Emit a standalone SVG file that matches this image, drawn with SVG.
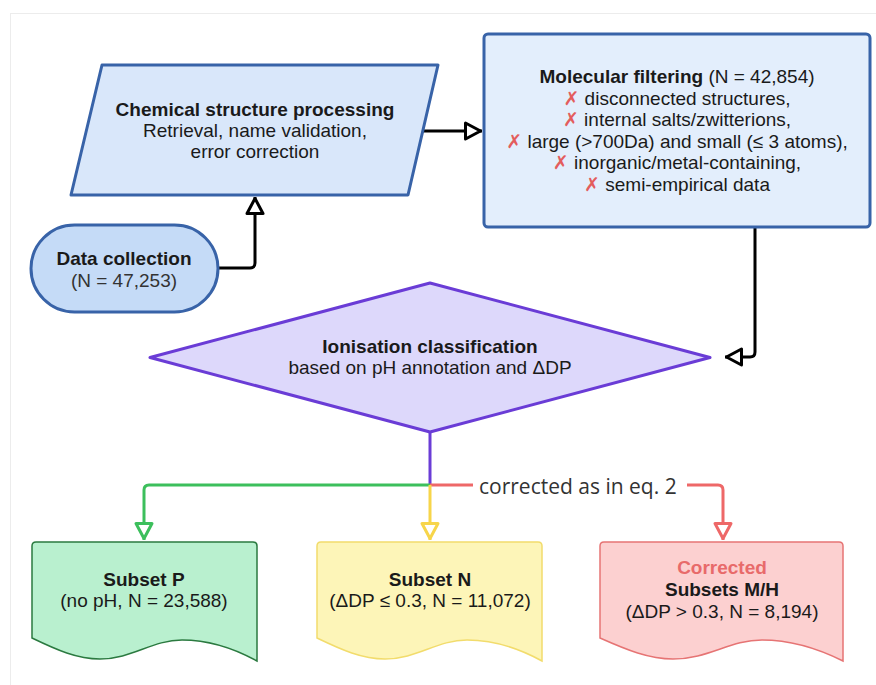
<svg xmlns="http://www.w3.org/2000/svg" width="876" height="685" viewBox="0 0 876 685">
  <style>
    .t { font-family: "Liberation Sans", Arial, sans-serif; font-size: 19px; fill: #1a1a1a; text-anchor: middle; }
    .b { font-weight: bold; }
    .x { fill: #e35d5d; font-family: "DejaVu Sans", sans-serif; font-size: 19px; }
    .red { fill: #e86a6a; }
    .grey { fill: #333333; }
    .lbl { font-family: "Open Sans", "Liberation Sans", sans-serif; font-size: 21px; fill: #333333; }
    .conn { fill: none; stroke-width: 3; stroke-linejoin: round; }
  </style>
  <defs>
    <marker id="aBlack" markerUnits="userSpaceOnUse" viewBox="0 0 22 22" markerWidth="22" markerHeight="22" refX="19.5" refY="11" orient="auto">
      <path d="M3,3 L18,11 L3,19 Z" fill="#ffffff" stroke="#000000" stroke-width="3" stroke-linejoin="round"/>
    </marker>
    <marker id="aGreen" markerUnits="userSpaceOnUse" viewBox="0 0 22 22" markerWidth="22" markerHeight="22" refX="19.5" refY="11" orient="auto">
      <path d="M3,3 L18,11 L3,19 Z" fill="#ffffff" stroke="#3cbf5c" stroke-width="3" stroke-linejoin="round"/>
    </marker>
    <marker id="aYellow" markerUnits="userSpaceOnUse" viewBox="0 0 22 22" markerWidth="22" markerHeight="22" refX="19.5" refY="11" orient="auto">
      <path d="M3,3 L18,11 L3,19 Z" fill="#ffffff" stroke="#f7d54a" stroke-width="3" stroke-linejoin="round"/>
    </marker>
    <marker id="aRed" markerUnits="userSpaceOnUse" viewBox="0 0 22 22" markerWidth="22" markerHeight="22" refX="19.5" refY="11" orient="auto">
      <path d="M3,3 L18,11 L3,19 Z" fill="#ffffff" stroke="#ee6868" stroke-width="3" stroke-linejoin="round"/>
    </marker>
  </defs>

  <rect x="0" y="0" width="876" height="685" fill="#ffffff"/>
  <rect x="10.5" y="13.5" width="880" height="700" fill="#ffffff" stroke="#ececec" stroke-width="1"/>

  <g id="connectors">
    <path class="conn" stroke="#000000" d="M218,268 H250 Q255,268 255,263 V197" marker-end="url(#aBlack)"/>
    <path class="conn" stroke="#000000" d="M423,131 H482" marker-end="url(#aBlack)"/>
    <path class="conn" stroke="#000000" d="M755,227 V352 Q755,357 750,357 H725" marker-end="url(#aBlack)"/>
    <path class="conn" stroke="#6a3cd6" d="M430,432 V485"/>
    <path class="conn" stroke="#3cbf5c" d="M430,485 H149 Q144,485 144,490 V540" marker-end="url(#aGreen)"/>
    <path class="conn" stroke="#ee6868" d="M430,485 H473"/>
    <path class="conn" stroke="#f7d54a" d="M430,485 V540" marker-end="url(#aYellow)"/>
    <path class="conn" stroke="#ee6868" d="M687,485 H718 Q723,485 723,490 V540" marker-end="url(#aRed)"/>
    <text class="lbl" x="479" y="494">corrected as in eq. 2</text>
  </g>

  <g id="chemical-structure-processing">
    <path d="M102,65 H438 L408,195 H71 Z" fill="#d9e7fa" stroke="#3863a8" stroke-width="3" stroke-linejoin="round"/>
    <text class="t" x="255" y="116"><tspan class="b">Chemical structure processing</tspan></text>
    <text class="t" x="255" y="137">Retrieval, name validation,</text>
    <text class="t" x="255" y="158">error correction</text>
  </g>

  <g id="data-collection">
    <rect x="31" y="225" width="187" height="87" rx="43.5" ry="43.5" fill="#c5dbf7" stroke="#3863a8" stroke-width="3"/>
    <text class="t b" x="124" y="265">Data collection</text>
    <text class="t grey" x="124" y="287">(N = 47,253)</text>
  </g>

  <g id="molecular-filtering">
    <rect x="484" y="34" width="386" height="193" rx="4" ry="4" fill="#e3eefc" stroke="#3863a8" stroke-width="3"/>
    <text class="t" x="677" y="83"><tspan class="b">Molecular filtering</tspan> (N = 42,854)</text>
    <text class="t" x="677" y="104.5"><tspan class="x">✗</tspan> disconnected structures,</text>
    <text class="t" x="677" y="126"><tspan class="x">✗</tspan> internal salts/zwitterions,</text>
    <text class="t" x="677" y="147.5"><tspan class="x">✗</tspan> large (&gt;700Da) and small (≤ 3 atoms),</text>
    <text class="t" x="677" y="169"><tspan class="x">✗</tspan> inorganic/metal-containing,</text>
    <text class="t" x="677" y="190.5"><tspan class="x">✗</tspan> semi-empirical data</text>
  </g>

  <g id="ionisation-classification">
    <path d="M430,283 L710,357.5 L430,432 L150,357.5 Z" fill="#ddd8fb" stroke="#6a3cd6" stroke-width="3" stroke-linejoin="round"/>
    <text class="t b" x="430" y="353">Ionisation classification</text>
    <text class="t" x="430" y="374">based on pH annotation and ΔDP</text>
  </g>

  <g id="subset-p">
    <path d="M36,542 H253 Q257,542 257,546 V661 C237,650 212,640 182,640 C152,640 132,659 100,659 C77,659 57,650 32,638 V546 Q32,542 36,542 Z" fill="#b9f0cf" stroke="#2b7a40" stroke-width="1.5"/>
    <text class="t b" x="144" y="585.5">Subset P</text>
    <text class="t" x="144" y="607">(no pH, N = 23,588)</text>
  </g>

  <g id="subset-n">
    <path d="M321,542 H538 Q542,542 542,546 V661 C522,650 497,640 467,640 C437,640 417,659 385,659 C362,659 342,650 317,638 V546 Q317,542 321,542 Z" fill="#fdf5b8" stroke="#f2dc6c" stroke-width="1.5"/>
    <text class="t b" x="430" y="585.5">Subset N</text>
    <text class="t" x="430" y="607">(ΔDP ≤ 0.3, N = 11,072)</text>
  </g>

  <g id="subsets-mh">
    <path d="M604,542 H839 Q843,542 843,546 V661 C821,650 794,640 762,640 C730,640 708,659 673,659 C649,659 627,650 600,638 V546 Q600,542 604,542 Z" fill="#fcd0d0" stroke="#e67474" stroke-width="1.5"/>
    <text class="t b red" x="722" y="573.5">Corrected</text>
    <text class="t b" x="722" y="595.5">Subsets M/H</text>
    <text class="t" x="722" y="618">(ΔDP &gt; 0.3, N = 8,194)</text>
  </g>
</svg>
